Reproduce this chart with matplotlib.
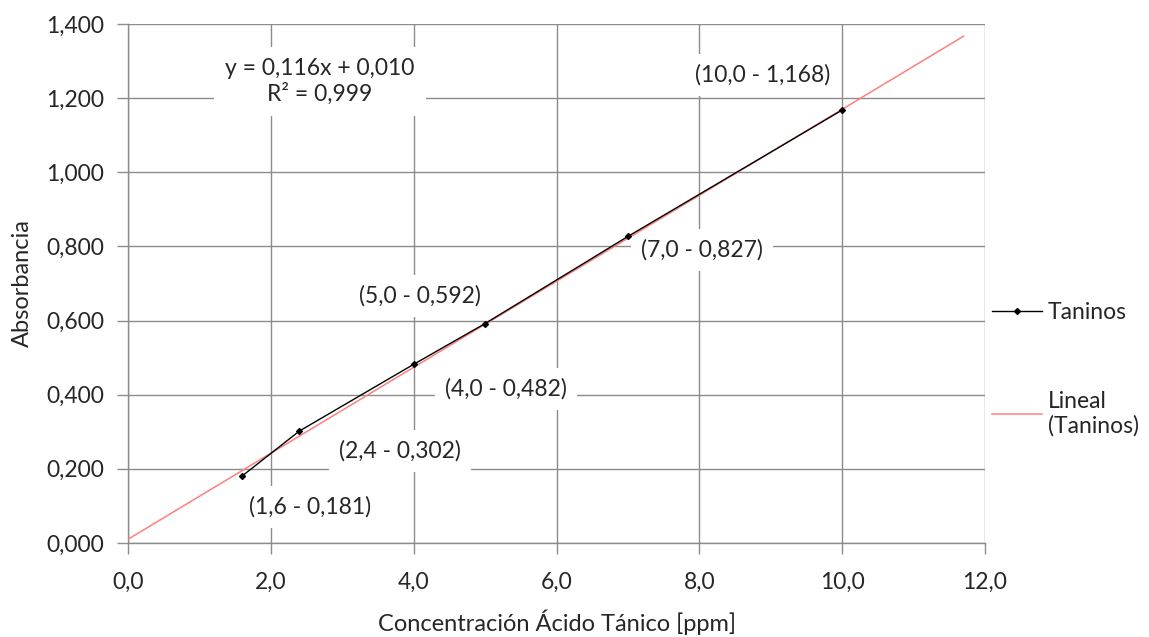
import numpy as np
import matplotlib
matplotlib.use("Agg")
import matplotlib.pyplot as plt
from matplotlib.ticker import FuncFormatter, MultipleLocator

# Calibration data: tannic acid concentration vs absorbance
conc = [1.6, 2.4, 4.0, 5.0, 7.0, 10.0]
absorb = [0.181, 0.302, 0.482, 0.592, 0.827, 1.168]
point_labels = ["(1,6 - 0,181)", "(2,4 - 0,302)", "(4,0 - 0,482)",
                "(5,0 - 0,592)", "(7,0 - 0,827)", "(10,0 - 1,168)"]
label_pos = [(2.55, 0.097), (3.81, 0.248), (5.29, 0.415),
             (4.09, 0.666), (8.04, 0.790), (8.89, 1.262)]

# Linear trendline (as reported)
slope = 0.116
intercept = 0.010
r2 = 0.999
trend_x = [0.0, 11.7]

plt.rcParams['font.family'] = ['Lato', 'DejaVu Sans']
FS = 16.5
TXT = '#262626'

fig = plt.figure(figsize=(11.49, 6.37), dpi=100)
ax = fig.add_axes([0.1114, 0.1476, 0.8573 - 0.1114, 0.9623 - 0.1476])

grid_c = '#8c8c8c'
tx = np.array(trend_x)
ax.plot(tx, slope * tx + intercept, color='#ff7f7f', lw=1.1, zorder=3,
        label='Lineal\n(Taninos)')
ax.plot(conc, absorb, color='black', lw=1.0, marker='D', ms=3.0,
        zorder=4, label='Taninos')

ax.set_xlim(0, 12)
ax.set_ylim(0, 1.4)
ax.xaxis.set_major_locator(MultipleLocator(2))
ax.yaxis.set_major_locator(MultipleLocator(0.2))
ax.xaxis.set_major_formatter(FuncFormatter(lambda v, p: f"{v:.1f}".replace('.', ',')))
ax.yaxis.set_major_formatter(FuncFormatter(lambda v, p: f"{v:.3f}".replace('.', ',')))
ax.grid(True, color=grid_c, lw=1.0, zorder=0)
ax.set_axisbelow(True)
for s in ['top', 'right']:
    ax.spines[s].set_visible(False)
for s in ['left', 'bottom']:
    ax.spines[s].set_color(grid_c)
    ax.spines[s].set_linewidth(1.0)
ax.tick_params(axis='both', colors=grid_c, length=8, width=1.0,
               labelcolor=TXT, labelsize=FS)
ax.tick_params(axis='x', pad=13)
ax.tick_params(axis='y', pad=9)

box = dict(boxstyle='square,pad=0.45', fc='white', ec='none')
for (lx, ly), txt in zip(label_pos, point_labels):
    ax.text(lx, ly, txt, ha='center', va='center', fontsize=FS,
            color=TXT, bbox=box, zorder=2)

eq = f"y = {slope:.3f}x + {intercept:.3f}".replace('.', ',')
r2txt = f"R² = {r2:.3f}".replace('.', ',')
ax.text(2.69, 1.245, eq + "\n" + r2txt, ha='center', va='center',
        fontsize=FS, color=TXT, linespacing=1.2,
        bbox=dict(boxstyle='square,pad=0.5', fc='white', ec='none'), zorder=2)

ax.set_xlabel("Concentración Ácido Tánico [ppm]", fontsize=FS + 0.5, color=TXT, labelpad=12)
ax.set_ylabel("Absorbancia", fontsize=FS + 0.5, color=TXT, labelpad=10)

handles, labels = ax.get_legend_handles_labels()
leg = ax.legend(handles[::-1], labels[::-1], loc='center left',
                bbox_to_anchor=(1.0, 0.334), frameon=False, fontsize=FS,
                handlelength=2.2, handletextpad=0.25, labelspacing=2.95,
                borderaxespad=0.0, borderpad=0.3)
for t in leg.get_texts():
    t.set_color(TXT)

fig.savefig("out.png", dpi=100, facecolor='white')
